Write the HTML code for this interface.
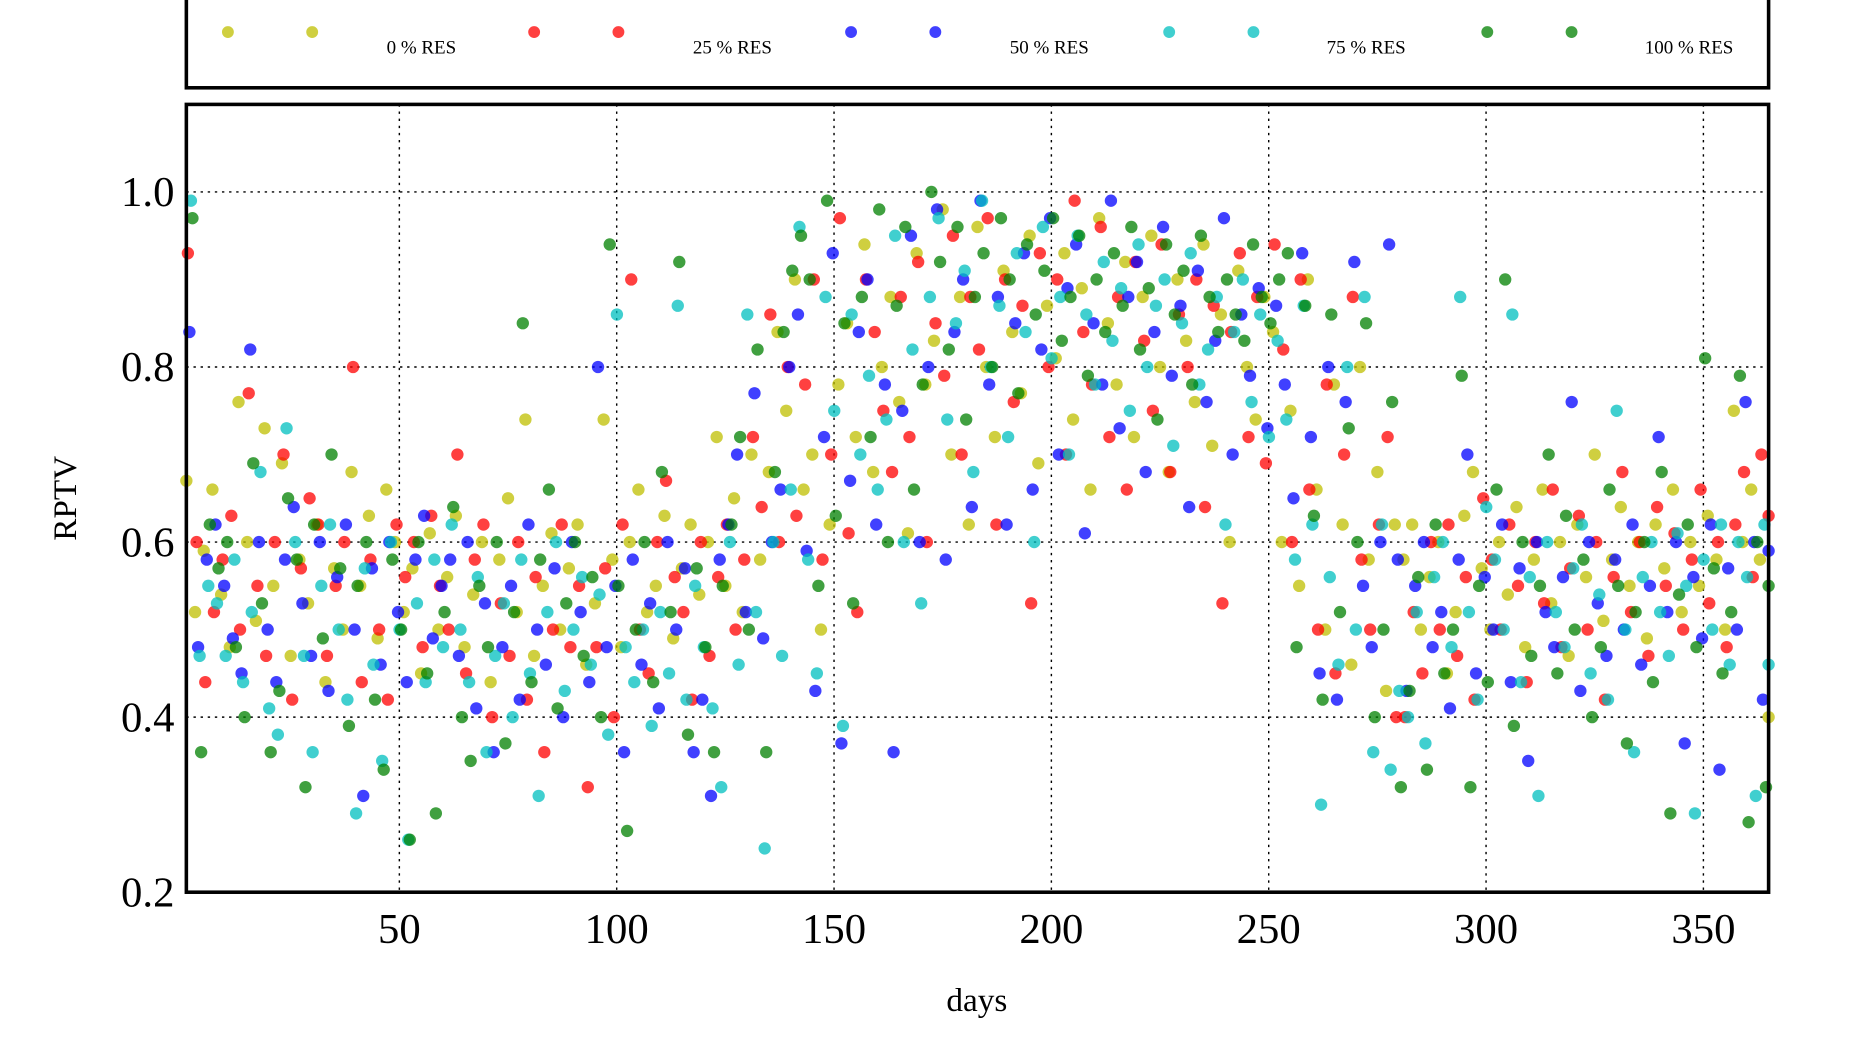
<!DOCTYPE html>
<html><head><meta charset="utf-8"><style>
html,body{margin:0;padding:0;background:#fff;}
svg{display:block;}
text{font-family:"Liberation Serif",serif;fill:#000;}
</style></head><body>
<svg id="chart" width="1860" height="1050" viewBox="0 0 1567 885" preserveAspectRatio="none" xmlns="http://www.w3.org/2000/svg">
<rect x="0" y="0" width="1567" height="885" fill="#fff"/>
<g id="legend">
<rect x="157" y="-5" width="1333" height="79" fill="none" stroke="#000" stroke-width="3"/>
</g>
<g id="grid"></g>
<g id="dots"></g>
<rect x="157" y="88" width="1333" height="664" fill="none" stroke="#000" stroke-width="3"/>
<g id="ticks"></g>
<text x="823" y="852" font-size="28" text-anchor="middle">days</text>
<text x="0" y="0" font-size="28" text-anchor="middle" transform="translate(64,420) rotate(-90)">RPTV</text>
</svg>
<script>
const seriesNames = ["0 % RES","25 % RES","50 % RES","75 % RES","100 % RES"];
const xTicks = [50,100,150,200,250,300,350];
const yTicks = [0.2,0.4,0.6,0.8,1.0];
const yTickLabels = ["0.2","0.4","0.6","0.8","1.0"];
const res0 = [.67,.52,.59,.66,.54,.48,.76,.6,.51,.73,.55,.69,.47,.58,.53,.62,.44,.57,.5,.68,.55,.63,.49,.66,.6,.52,.57,.45,.61,.5,
.56,.63,.48,.54,.6,.44,.58,.65,.52,.74,.47,.55,.61,.5,.57,.62,.46,.53,.74,.58,.48,.6,.66,.52,.55,.63,.49,.57,.62,.54,
.6,.72,.55,.65,.52,.7,.58,.68,.84,.75,
.9,.66,.7,.5,.62,.78,.85,.72,.94,.68,.8,.88,.76,.61,.93,.78,.83,.98,.7,.88,.62,.96,.8,.72,.91,.84,.77,.95,.69,.87,.81,.93,.74,.89,.66,.97,.85,.78,.92,.72,.88,.95,.8,.68,.9,.83,.76,.94,.71,.86,.6,.91,.8,.74,.88,
.84,.6,.75,.55,.9,.66,.5,.78,.62,.46,.8,.58,.68,.43,.62,
.58,.62,.5,.56,.6,.45,.52,.63,.68,.57,.5,.6,.54,.64,.48,.58,.66,.53,.6,.47,.62,.56,.7,.51,.58,.64,.55,.6,.49,.62,.57,.66,.52,.6,.55,.63,.58,.5,.75,.6,.66,.58,.4];
const res25 = [.93,.6,.44,.52,.58,.63,.5,.77,.55,.47,.6,.7,.42,.57,.65,.62,.47,.55,.6,.8,.44,.58,.5,.42,.62,.56,.6,.48,.63,.55,
.5,.7,.45,.58,.62,.4,.53,.47,.6,.42,.56,.36,.5,.62,.48,.55,.32,.48,.57,.4,.62,.9,.5,.45,.6,.67,.56,.52,.42,.6,
.47,.56,.62,.5,.58,.72,.64,.86,.6,.8,
.63,.78,.9,.58,.7,.97,.61,.52,.9,.84,.75,.68,.88,.72,.92,.6,.85,.79,.95,.7,.88,.82,.97,.62,.9,.76,.87,.53,.93,.8,.9,.7,.99,.84,.78,.96,.72,.88,.66,.92,.83,.75,.94,.68,.86,.8,.9,.64,.87,.53,.84,.93,.72,.88,.69,
.94,.82,.6,.9,.66,.5,.78,.45,.7,.88,.58,.5,.62,.72,.4,
.4,.52,.45,.6,.5,.62,.47,.56,.42,.65,.58,.5,.62,.55,.44,.6,.53,.66,.48,.57,.63,.5,.6,.42,.56,.68,.52,.6,.47,.64,.55,.61,.5,.58,.66,.53,.6,.48,.62,.68,.56,.7,.63];
const res50 = [.84,.48,.58,.62,.55,.49,.45,.82,.6,.5,.44,.58,.64,.53,.47,.6,.43,.56,.62,.5,.31,.57,.46,.6,.52,.44,.58,.63,.49,.55,
.58,.47,.6,.41,.53,.36,.48,.55,.42,.62,.5,.46,.57,.4,.6,.52,.44,.8,.48,.55,.36,.58,.46,.53,.41,.6,.5,.57,.36,.42,
.31,.58,.62,.7,.52,.77,.49,.6,.66,.8,
.86,.59,.43,.72,.93,.37,.67,.84,.9,.62,.78,.36,.75,.95,.6,.8,.98,.58,.84,.9,.64,.99,.78,.88,.62,.85,.93,.66,.82,.97,.7,.89,.94,.61,.85,.78,.99,.73,.88,.92,.68,.84,.96,.79,.87,.64,.91,.76,.83,.97,.7,.86,.79,.89,.73,
.87,.78,.65,.93,.72,.45,.8,.42,.76,.92,.55,.48,.6,.94,.58,
.43,.55,.6,.48,.52,.41,.58,.7,.45,.56,.5,.62,.44,.57,.35,.6,.52,.48,.56,.76,.43,.6,.53,.47,.58,.5,.62,.46,.55,.72,.52,.6,.37,.56,.49,.62,.34,.57,.5,.76,.6,.42,.59];
const res75 = [.99,.47,.55,.53,.47,.58,.44,.52,.68,.41,.38,.73,.6,.47,.36,.55,.62,.5,.42,.29,.57,.46,.35,.6,.5,.26,.53,.44,.58,.48,
.62,.5,.44,.56,.36,.47,.53,.4,.58,.45,.31,.52,.6,.43,.5,.56,.46,.54,.38,.86,.48,.44,.5,.39,.52,.45,.87,.42,.55,.48,
.41,.32,.6,.46,.86,.52,.25,.6,.47,.66,
.96,.58,.45,.88,.75,.39,.86,.7,.79,.66,.74,.95,.6,.82,.53,.88,.97,.74,.85,.91,.68,.99,.8,.87,.72,.93,.84,.6,.96,.81,.88,.7,.95,.86,.78,.92,.83,.89,.75,.94,.8,.87,.9,.71,.85,.93,.78,.82,.88,.62,.84,.9,.76,.86,.72,
.83,.74,.58,.87,.62,.3,.56,.46,.8,.5,.88,.36,.62,.34,.43,
.4,.52,.37,.56,.6,.48,.88,.52,.42,.64,.58,.5,.86,.44,.56,.31,.6,.52,.48,.57,.62,.45,.54,.42,.75,.5,.36,.56,.6,.52,.47,.61,.55,.29,.58,.5,.62,.46,.6,.56,.31,.62,.46];
const res100 = [.97,.36,.62,.57,.6,.48,.4,.69,.53,.36,.43,.65,.58,.32,.62,.49,.7,.57,.39,.55,.6,.42,.34,.58,.5,.26,.6,.45,.29,.52,
.64,.4,.35,.55,.48,.6,.37,.52,.85,.44,.58,.66,.41,.53,.6,.47,.56,.4,.94,.55,.27,.5,.6,.44,.68,.52,.92,.38,.57,.48,
.36,.55,.62,.72,.5,.82,.36,.68,.84,.91,
.95,.9,.55,.99,.63,.85,.53,.88,.72,.98,.6,.87,.96,.66,.78,1.0,.92,.82,.96,.74,.88,.93,.8,.97,.9,.77,.94,.86,.91,.97,.83,.88,.95,.79,.9,.84,.93,.87,.96,.82,.89,.74,.94,.86,.91,.78,.95,.88,.84,.9,.86,.83,.94,.88,.85,
.9,.93,.48,.87,.63,.42,.86,.52,.73,.6,.85,.4,.5,.76,.32,
.43,.56,.34,.62,.45,.5,.79,.32,.55,.44,.66,.9,.39,.6,.47,.55,.7,.45,.63,.5,.58,.4,.48,.66,.55,.37,.52,.6,.44,.68,.29,.54,.62,.48,.81,.57,.45,.52,.79,.28,.6,.32,.55];
const allSeries = [res0,res25,res50,res75,res100];

const NS="http://www.w3.org/2000/svg";
const colors=["rgba(191,191,0,0.75)","rgba(255,0,0,0.75)","rgba(0,0,255,0.75)","rgba(0,191,191,0.75)","rgba(0,128,0,0.75)"];
const X0=157,X1=1490,Y0=88,Y1=752, DMIN=1, DMAX=365, VMIN=0.2, VMAX=1.1;
function xs(d){return X0+(d-DMIN)/(DMAX-DMIN)*(X1-X0);}
function ys(v){return Y1-(v-VMIN)/(VMAX-VMIN)*(Y1-Y0);}
function mk(tag,attrs,parent){const e=document.createElementNS(NS,tag);for(const k in attrs)e.setAttribute(k,attrs[k]);parent.appendChild(e);return e;}
const grid=document.getElementById('grid'),ticks=document.getElementById('ticks'),dots=document.getElementById('dots'),legend=document.getElementById('legend');
xTicks.forEach(t=>{
  const l=mk('line',{x1:xs(t),x2:xs(t),y1:Y0,y2:Y1,stroke:'#000','stroke-width':1.2,'stroke-dasharray':'2,4'},grid);
  
  
  const tx=mk('text',{x:xs(t),y:Y1+43,'font-size':36,'text-anchor':'middle'},ticks);
  tx.textContent=t;
  
  
});
yTicks.forEach((t,i)=>{
  const l=mk('line',{x1:X0,x2:X1,y1:ys(t),y2:ys(t),stroke:'#000','stroke-width':1.2,'stroke-dasharray':'2,4'},grid);
  
  
  const tx=mk('text',{x:X0-10,y:ys(t)+12,'font-size':36,'text-anchor':'end'},ticks);
  tx.textContent=yTickLabels[i];
  
  
});
allSeries.forEach((arr,s)=>{
  const n=arr.length;
  arr.forEach((v,i)=>{
    const d=DMIN+i*(DMAX-DMIN)/(n-1)+s*0.35;
    const c=mk('circle',{cx:xs(Math.min(d,DMAX)),cy:ys(v),r:5.2,fill:colors[s]},dots);
    
    
  });
});
const legX=[192,450,717,985,1253],legLab=[355,617,884,1151,1423];
seriesNames.forEach((nm,s)=>{
  [legX[s],legX[s]+71].forEach(x=>{
    const c=mk('circle',{cx:x,cy:27,r:5,fill:colors[s]},legend);
    
    
  });
  const t=mk('text',{x:legLab[s],y:45,'font-size':16,'text-anchor':'middle'},legend);
  t.textContent=nm;
  
  
});
</script>
</body></html>
